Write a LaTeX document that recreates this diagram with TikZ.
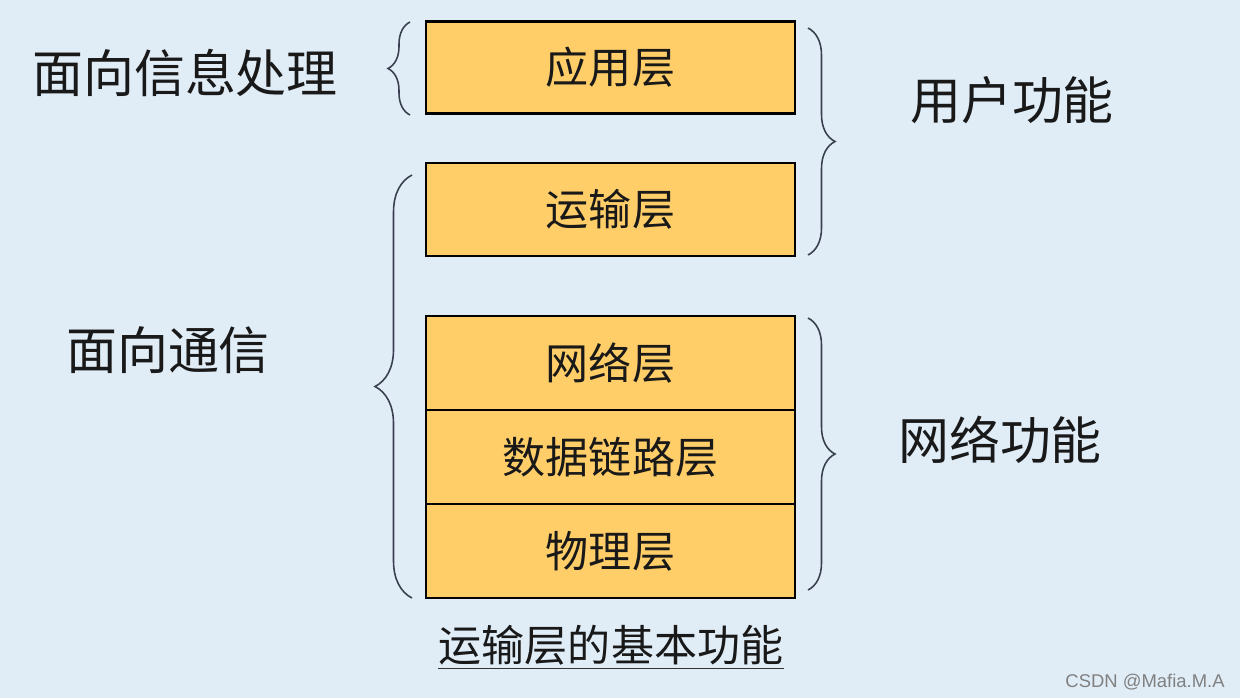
\documentclass[tikz,border=0pt]{standalone}
\usepackage{fontspec}
\setmainfont{Noto Sans CJK SC}
\newfontfamily\markfont{Liberation Sans}
\usetikzlibrary{decorations.pathreplacing}
\definecolor{bgblue}{RGB}{224,237,247}
\definecolor{layerfill}{RGB}{255,206,104}
\definecolor{bracecol}{RGB}{58,64,80}
\tikzset{
  layer/.style={draw=black, line width=1.2pt, fill=layerfill, minimum width=7.38cm,
    inner sep=0pt, font=\fontsize{24.5}{28}\selectfont, text=black!90},
  side/.style={font=\fontsize{29}{34}\selectfont, text=black!90, inner sep=0pt},
  bracket/.style={draw=bracecol, line width=0.9pt, decorate,
    decoration={brace, amplitude=#1}},
}
\begin{document}
\begin{tikzpicture}[x=0.02cm, y=-0.02cm]
\fill[bgblue] (0,0) rectangle (1240,698);
\useasboundingbox (0,0) rectangle (1240,698);
% layer boxes
\node[layer, minimum height=1.84cm] (app) at (610.5,67.5) {应用层};
\node[layer, minimum height=1.86cm] (trans) at (610.5,209.5) {运输层};
\node[layer, minimum height=1.88cm] (net) at (610.5,363) {网络层};
\node[layer, minimum height=1.88cm] (link) at (610.5,457) {数据链路层};
\node[layer, minimum height=1.88cm] (phy) at (610.5,551) {物理层};
% side labels
\node[side] (info) at (185,73) {面向信息处理};
\node[side] (comm) at (168,350) {面向通信};
\node[side] (user) at (1012,100) {用户功能};
\node[side] (netfn) at (1000,440) {网络功能};
% brace ends
\coordinate (infoB) at (410,115);
\coordinate (infoT) at (410,22);
\coordinate (commB) at (412,598);
\coordinate (commT) at (412,175);
\coordinate (userT) at (808,28);
\coordinate (userB) at (808,255);
\coordinate (netT) at (808,318);
\coordinate (netB) at (808,590);
\draw[bracket=0.44cm] (infoB) -- (infoT);
\draw[bracket=0.74cm] (commB) -- (commT);
\draw[bracket=0.54cm] (userT) -- (userB);
\draw[bracket=0.54cm] (netT) -- (netB);
% caption
\node[font=\fontsize{24.5}{28}\selectfont, text=black!90, inner sep=0pt] (cap) at (611,645) {运输层的基本功能};
\draw[black!80, line width=0.8pt] ([yshift=-0.06cm]cap.south west) -- ([yshift=-0.06cm]cap.south east);
\node[font=\markfont\fontsize{10.5}{12}\selectfont, text=black!50] (mark) at (1145,682) {CSDN @Mafia.M.A};
\end{tikzpicture}
\end{document}
